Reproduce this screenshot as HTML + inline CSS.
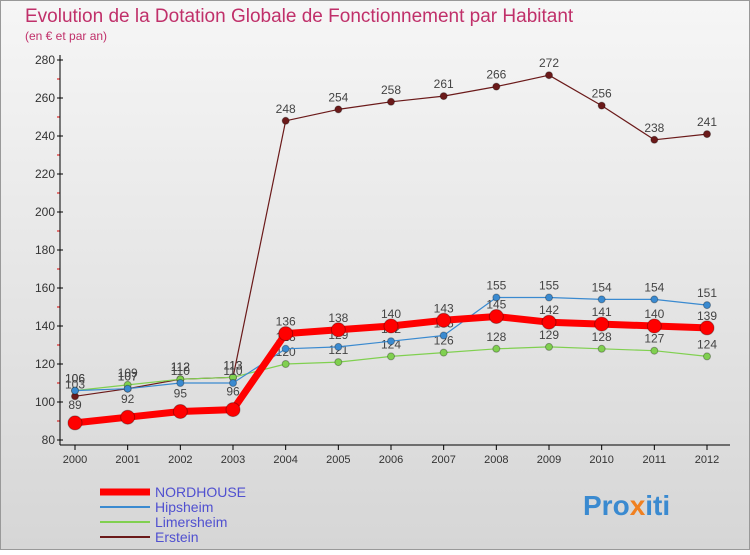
<!DOCTYPE html>
<html><head><meta charset="utf-8"><style>
body{margin:0;width:750px;height:550px;overflow:hidden;font-family:"Liberation Sans","DejaVu Sans",sans-serif}
</style></head><body>
<svg id="c" width="750" height="550" xmlns="http://www.w3.org/2000/svg">
<defs><linearGradient id="bg" x1="0" y1="0" x2="0" y2="1"><stop offset="0" stop-color="#f6f6f6"/><stop offset="1" stop-color="#d6d6d6"/></linearGradient></defs>
<rect x="0.5" y="0.5" width="749" height="549" fill="url(#bg)" stroke="#999"/>
<text x="25" y="22" font-size="19" fill="#c0306a">Evolution de la Dotation Globale de Fonctionnement par Habitant</text>
<text x="25" y="40" font-size="12" fill="#c0306a">(en € et par an)</text>
<g id="axes"></g><g id="series"></g><g id="legend"></g>
<text x="583" y="515" font-size="28" font-weight="bold" fill="#3a8ad0">Pro<tspan fill="#f08020">x</tspan>iti</text>
</svg>
<script>
const years=[2000,2001,2002,2003,2004,2005,2006,2007,2008,2009,2010,2011,2012];
const yTicks=[80,100,120,140,160,180,200,220,240,260,280];
const nordhouse=[89,92,95,96,136,138,140,143,145,142,141,140,139];
const hipsheim=[106,107,110,110,128,129,132,135,155,155,154,154,151];
const limersheim=[106,109,112,113,120,121,124,126,128,129,128,127,124];
const erstein=[103,107,112,113,248,254,258,261,266,272,256,238,241];
const NS="http://www.w3.org/2000/svg";
const X=i=>75+i*(707-75)/(years.length-1);
const Y=v=>440-(v-80)*(380/200);
function mk(t,a,p){const e=document.createElementNS(NS,t);for(const k in a)e.setAttribute(k,a[k]);p.appendChild(e);return e;}
const axes=document.getElementById('axes'),ser=document.getElementById('series'),leg=document.getElementById('legend');
yTicks.forEach(v=>{
 const t=mk('text',{x:55,y:Y(v)+4,'font-size':12,'text-anchor':'end',fill:'#333'},axes);t.textContent=v;
 
 
 mk('line',{x1:57,x2:63,y1:Y(v),y2:Y(v),stroke:'#000'},axes);
 if(v<280)mk('line',{x1:57,x2:60,y1:Y(v+10),y2:Y(v+10),stroke:'#d00'},axes);
});
mk('line',{x1:60,x2:60,y1:55,y2:445,stroke:'#000'},axes);
mk('line',{x1:60,x2:730,y1:445,y2:445,stroke:'#000'},axes);
years.forEach((y,i)=>{
 mk('line',{x1:X(i),x2:X(i),y1:445,y2:450,stroke:'#000'},axes);
 const t=mk('text',{x:X(i),y:463,'font-size':11,'text-anchor':'middle',fill:'#333'},axes);t.textContent=y;
 
 
});
function series(d,col,w,r,name,below){
 const g=mk('g',{},ser);
 
 
 mk('polyline',{points:d.map((v,i)=>X(i)+','+Y(v)).join(' '),fill:'none',stroke:col,'stroke-width':w,'stroke-linejoin':'round'},g);
 d.forEach((v,i)=>{
  const c=mk('circle',{cx:X(i),cy:Y(v),r:r,fill:col,stroke:'rgba(0,0,0,0.3)'},g);
  
  
  const t=mk('text',{x:X(i),y:below&&i<4?Y(v)-14:Y(v)-8,'font-size':12,'text-anchor':'middle',fill:'#444'},g);t.textContent=v;
  
  
 });
}
series(erstein,'#6b1a1a',1.2,3.5,'erstein',false);
series(limersheim,'#80d050',1.2,3.5,'limersheim',false);
series(hipsheim,'#3a8ad0',1.2,3.5,'hipsheim',false);
series(nordhouse,'#ff0000',7,7,'nordhouse',true);
const lg=[['NORDHOUSE','#ff0000',7],['Hipsheim','#3a8ad0',2],['Limersheim','#80d050',2],['Erstein','#6b1a1a',2]];
lg.forEach((e,i)=>{
 const y=492+i*15;
 mk('line',{x1:100,x2:150,y1:y,y2:y,stroke:e[1],'stroke-width':e[2]},leg);
 const t=mk('text',{x:155,y:y+5,'font-size':14,fill:'#5050d0'},leg);t.textContent=e[0];
 
 
});
</script>
</body></html>
